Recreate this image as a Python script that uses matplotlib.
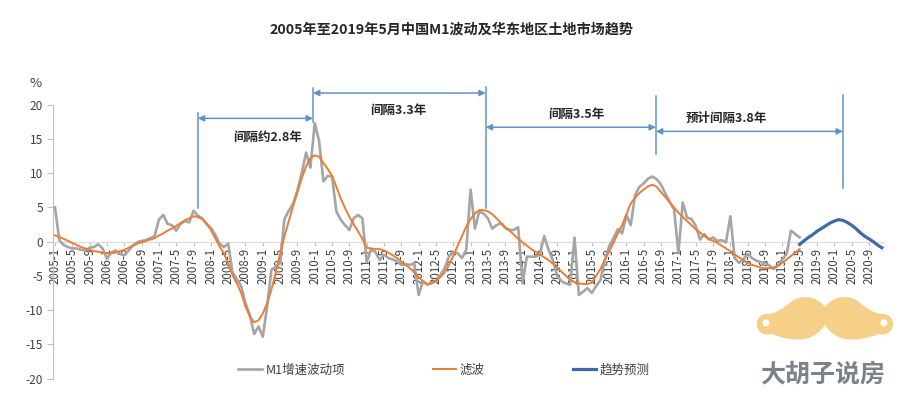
import numpy as np
import matplotlib
matplotlib.use('Agg')
import matplotlib.pyplot as plt
from matplotlib.path import Path
from matplotlib.patches import PathPatch, Circle

plt.rcParams['font.family'] = ['Noto Sans CJK SC', 'DejaVu Sans']
plt.rcParams['axes.unicode_minus'] = False

# 月份类别 2005-1 ... 2020-12
meses = [f'{a}-{m}' for a in range(2005, 2021) for m in range(1, 13)]

# M1增速波动项 (2005-1 ~ 2019-5)
m1_bodong = [
    5.0, 0.2, -0.5, -0.8, -1.0, -1.0, -1.2, -1.3, -0.9, -0.8, -0.4, -1.0,
    -2.5, -1.6, -1.3, -1.8, -2.0, -1.3, -0.6, -0.1, 0.1, 0.2, 0.5, 0.8,
    3.2, 3.9, 2.6, 2.4, 1.6, 2.6, 3.0, 2.8, 4.5, 3.8, 3.4, 2.6,
    2.0, 1.0, -0.3, -0.8, -0.3, -4.5, -5.5, -6.5, -9.0, -10.7, -13.5, -12.4,
    -13.9, -9.5, -4.1, -3.7, -3.2, 3.3, 4.5, 5.5, 7.5, 10.0, 13.0, 10.8,
    17.3, 14.7, 8.8, 9.6, 9.5, 4.4, 3.2, 2.4, 1.7, 3.4, 3.9, 3.4,
    -3.0, -1.2, -1.5, -2.7, -1.9, -2.4, -2.6, -2.9, -3.4, -3.3, -3.4, -3.2,
    -7.8, -5.8, -6.3, -6.0, -5.8, -4.9, -3.9, -2.2, -1.5, -1.7, -2.4, -1.2,
    7.6, 1.9, 4.4, 4.1, 3.4, 1.9, 2.4, 2.7, 2.0, 1.7, 1.7, 2.1,
    -6.1, -2.2, -2.2, -2.2, -1.9, 0.8, -1.2, -2.7, -5.0, -5.8, -6.1, -6.3,
    0.6, -7.8, -7.3, -6.8, -7.5, -6.5, -5.6, -2.7, -0.7, 0.5, 1.8, 1.2,
    3.9, 2.4, 6.8, 8.0, 8.5, 9.2, 9.5, 9.1, 8.3, 7.0, 5.8, 4.7,
    -1.7, 5.7, 3.5, 3.3, 2.3, 0.3, 1.1, 0.3, 0.6, 0.1, 0.2, -0.1,
    3.7, -2.4, -3.1, -2.6, -1.8, -2.4, -2.8, -3.0, -3.1, -3.5, -4.0, -3.5,
    -2.6, -1.8, 1.6, 1.1, 0.6,
]

# 滤波 (2005-1 ~ 2019-5)
lvbo = [
    0.9, 0.7, 0.4, 0.1, -0.2, -0.5, -0.8, -1.0, -1.2, -1.4, -1.5, -1.6,
    -1.7, -1.7, -1.6, -1.4, -1.2, -0.9, -0.6, -0.3, -0.1, 0.1, 0.3, 0.5,
    0.9, 1.2, 1.6, 1.9, 2.3, 2.7, 3.1, 3.4, 3.7, 3.6, 3.3, 2.6,
    1.7, 0.5, -0.7, -1.7, -3.2, -4.9, -6.1, -7.5, -9.5, -10.9, -11.8, -11.5,
    -10.5, -9.0, -7.0, -4.5, -1.8, 0.8, 3.0, 5.2, 7.2, 9.2, 11.0, 12.2,
    12.6, 12.4, 11.5, 10.6, 9.6, 8.0, 6.3, 4.9, 3.6, 2.5, 1.5, 0.4,
    -0.9, -1.0, -1.1, -1.1, -1.3, -1.6, -2.0, -2.4, -2.9, -3.4, -3.9, -4.5,
    -5.2, -5.8, -6.2, -6.1, -5.7, -5.2, -4.5, -3.4, -2.1, -0.6, 0.8, 2.2,
    3.3, 4.1, 4.6, 4.6, 4.4, 4.0, 3.4, 2.7, 2.1, 1.6, 1.0, 0.4,
    -0.1, -0.6, -1.1, -1.5, -1.9, -2.3, -2.7, -3.2, -3.8, -4.4, -5.0, -5.6,
    -5.9, -6.1, -6.2, -6.2, -6.0, -5.0, -4.0, -2.7, -1.4, -0.2, 1.2, 2.4,
    4.0, 5.6, 6.4, 7.1, 7.6, 8.1, 8.3, 8.0, 7.2, 6.5, 5.7, 5.0,
    4.2, 3.6, 3.0, 2.4, 1.8, 1.3, 0.8, 0.4, 0.1, -0.2, -0.6, -1.0,
    -1.4, -1.9, -2.3, -2.7, -3.1, -3.4, -3.6, -3.8, -3.9, -3.9, -3.8, -3.5,
    -3.1, -2.6, -2.1, -1.6, -1.1,
]

# 趋势预测 (2019-5 ~ 2020-12)
yuce = [-0.4, 0.1, 0.6, 1.0, 1.5, 1.9, 2.3, 2.7, 3.0, 3.2,
        3.1, 2.8, 2.4, 1.9, 1.3, 0.8, 0.4, 0.0, -0.5, -0.9]
inicio_yuce = meses.index('2019-5')

# 间隔标注
etiquetas = ['间隔约2.8年', '间隔3.3年', '间隔3.5年', '预计间隔3.8年']

# 标注的位置 (月份序号, 数值)
lineas_x = [33.0, 59.6, 99.5, 138.8, 182.0]
lineas_y = [(4.9, 18.8), (17.5, 22.4), (4.9, 22.6), (12.8, 21.2), (7.8, 21.4)]
flechas_y = [18.0, 21.7, 16.7, 16.1]
textos_pos = [(49.2, 15.2), (79.2, 19.2), (120.3, 18.6), (155.0, 18.0)]

color_gris = '#a5a5a5'
color_naranja = '#ed7d31'
color_azul = '#3f69a9'
color_flecha = '#5f93c8'
color_texto = '#404040'

fig = plt.figure(figsize=(9.03, 4.17), dpi=100)
ax = fig.add_axes([0.0585, 0.0923, 0.9205, 0.6567])

for s in ['top', 'right']:
    ax.spines[s].set_visible(False)
ax.spines['left'].set_color('#bfbfbf')
ax.spines['bottom'].set_color('#d9d9d9')
ax.spines['bottom'].set_position(('data', 0))

x_m1 = np.arange(len(m1_bodong))
l1, = ax.plot(x_m1, m1_bodong, color=color_gris, lw=1.9, label='M1增速波动项', zorder=3)
l2, = ax.plot(np.arange(len(lvbo)), lvbo, color=color_naranja, lw=1.4, label='滤波', zorder=4)
x_yuce = np.arange(inicio_yuce, inicio_yuce + len(yuce))
l3, = ax.plot(x_yuce, yuce, color=color_azul, lw=2.3, label='趋势预测', zorder=4)

ax.set_xlim(-0.5, len(meses) - 0.5)
ax.set_ylim(-20, 20)
ax.set_yticks(np.arange(-20, 21, 5))
ax.set_xticks(np.arange(0, len(meses), 4))
ax.set_xticklabels([meses[i] for i in range(0, len(meses), 4)])
ax.tick_params(axis='y', labelsize=8.5, labelcolor=color_texto, length=4,
               color='#bfbfbf', pad=3)
ax.tick_params(axis='x', labelsize=8.3, labelcolor=color_texto, labelrotation=90,
               length=3, color='#bfbfbf', pad=1.5)

# 间隔线和箭头
for xv, (y0, y1) in zip(lineas_x, lineas_y):
    ax.plot([xv, xv], [y0, y1], color=color_flecha, lw=1.1, clip_on=False, zorder=5)
for i, yv in enumerate(flechas_y):
    ax.annotate('', xy=(lineas_x[i + 1], yv), xytext=(lineas_x[i], yv),
                arrowprops=dict(arrowstyle='<|-|>', color=color_flecha, lw=1.1,
                                mutation_scale=9, shrinkA=0, shrinkB=0),
                annotation_clip=False, zorder=5)
for txt, (xt, yt) in zip(etiquetas, textos_pos):
    ax.text(xt, yt, txt, ha='center', va='center', fontsize=9, fontweight='bold',
            color='#262626', clip_on=False)

fig.text(0.5, 0.928, '2005年至2019年5月中国M1波动及华东地区土地市场趋势',
         ha='center', va='center', fontsize=10.2, fontweight='bold', color='#262626')
fig.text(0.039, 0.80, '%', ha='center', va='center', fontsize=9.5, color=color_texto)

# 图例
for h, xl in zip([l1, l2, l3], [0.264, 0.479, 0.634]):
    fig.legend(handles=[h], loc='center left', bbox_to_anchor=(xl, 0.113),
               frameon=False, fontsize=9, handlelength=1.9, handletextpad=0.25,
               borderpad=0, borderaxespad=0, labelcolor=color_texto)

# 水印
ax_logo = fig.add_axes([0.836, 0.168, 0.155, 0.12])
ax_logo.set_xlim(0, 140)
ax_logo.set_ylim(0, 50)
ax_logo.axis('off')
verts = [
    (70, 40),
    (62, 51), (46, 53), (36, 45),
    (28, 38), (20, 33), (12, 33),
    (5, 33), (1, 27), (2, 21),
    (3, 14), (10, 11), (17, 13),
    (25, 9), (40, 6), (50, 8),
    (60, 10), (66, 16), (70, 22),
    (74, 16), (80, 10), (90, 8),
    (100, 6), (115, 9), (123, 13),
    (130, 11), (137, 14), (138, 21),
    (139, 27), (135, 33), (128, 33),
    (120, 33), (112, 38), (104, 45),
    (94, 53), (78, 51), (70, 40),
    (70, 40),
]
codes = [Path.MOVETO] + [Path.CURVE4] * 36 + [Path.CLOSEPOLY]
ax_logo.add_patch(PathPatch(Path(verts, codes), facecolor='#f6cf88', edgecolor='none'))
ax_logo.add_patch(Circle((11, 24), 3.5, facecolor='white', edgecolor='none'))
ax_logo.add_patch(Circle((129, 24), 3.5, facecolor='white', edgecolor='none'))
fig.text(0.911, 0.103, '大胡子说房', ha='center', va='center', fontsize=18,
         fontweight='bold', color='#7b828d')

fig.savefig('out.png', dpi=100)
